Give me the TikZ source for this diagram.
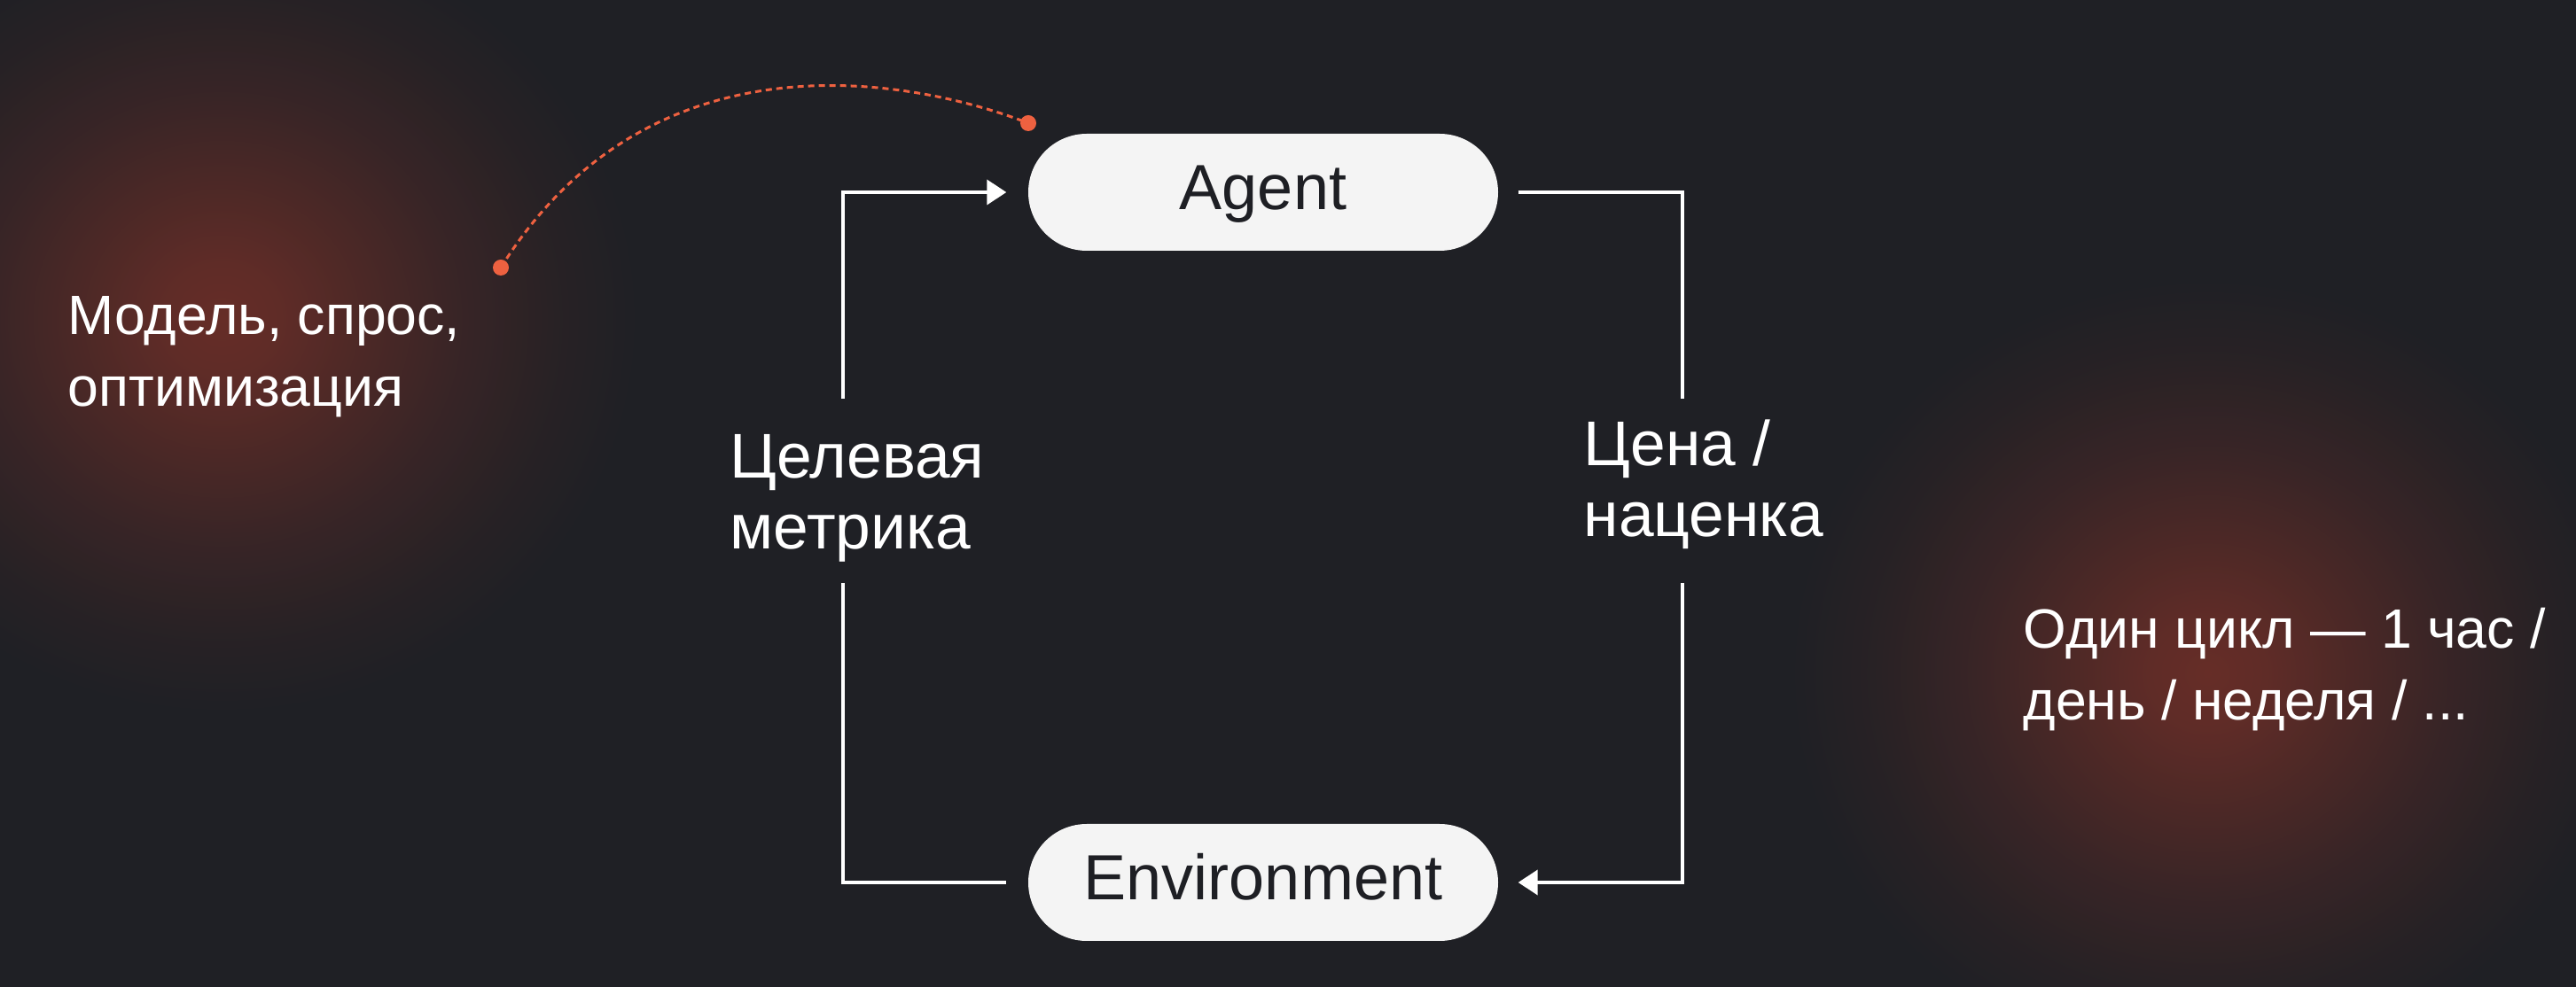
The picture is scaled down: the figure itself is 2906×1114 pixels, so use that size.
\documentclass[tikz,border=0pt]{standalone}
\usepackage{fontspec}
\setmainfont{Liberation Sans}
\usetikzlibrary{arrows.meta}

\definecolor{bg}{HTML}{1F2025}
\definecolor{glowc}{HTML}{662D27}
\definecolor{boxfill}{HTML}{F4F4F4}
\definecolor{boxtext}{HTML}{1E1F24}
\definecolor{accent}{HTML}{EE6140}

\pgfdeclareradialshading{glow}{\pgfpoint{0bp}{0bp}}{color(0bp)=(glowc); color(3bp)=(glowc!90!bg); color(7bp)=(glowc!65!bg); color(12bp)=(glowc!35!bg); color(17bp)=(glowc!12!bg); color(21bp)=(bg); color(50bp)=(bg)}

\tikzset{
  stage/.style={fill=boxfill, text=boxtext, rounded corners=6.6mm, minimum width=53mm, minimum height=13.2mm, inner sep=0pt, text height=14.7pt, text depth=3.6pt, font=\fontsize{20.5}{24}\selectfont},
  lbl/.style={text=white, align=left, inner sep=0pt, anchor=base west, font=\fontsize{20.3}{22.8}\selectfont},
  note/.style={lbl, font=\fontsize{17.8}{23.2}\selectfont},
  flow/.style={draw=white, line width=0.38mm},
  flowarrow/.style={flow, -{Triangle[length=2.2mm,width=2.8mm]}},
  dot/.style={circle, fill=accent, inner sep=0pt, minimum size=1.8mm},
}

\begin{document}
\begin{tikzpicture}[x=0.1mm,y=-0.1mm]
\fill[bg] (0,0) rectangle (2906,1114);
\useasboundingbox (0,0) rectangle (2906,1114);

% glows behind the side notes
\begin{scope}
\clip (0,0) rectangle (2906,1114);
\shade[shading=glow] (250,360) ellipse [x radius=560, y radius=530];
\shade[shading=glow] (2490,760) ellipse [x radius=560, y radius=530];
\end{scope}

% the two stages
\node[stage] (agent) at (1425,217) {Agent};
\node[stage] (env) at (1425,996) {Environment};

% labels on the loop (anchored at the second baseline)
\node[lbl] (metric) at (823,620) {Целевая\\метрика};
\node[lbl] (price) at (1786,606) {Цена /\\наценка};

% side notes
\node[note] (model) at (76,459) {Модель, спрос,\\оптимизация};
\node[note] (cycle) at (2282,813) {Один цикл — 1 час /\\день / неделя / ...};

% loop
\coordinate (lt) at (951,450);
\coordinate (lb) at (951,658);
\coordinate (rt) at (1898,450);
\coordinate (rb) at (1898,658);
\draw[flowarrow, shorten >=2.4mm] (lt) |- (agent.west);
\draw[flow, shorten <=2.2mm] (agent.east) -| (rt);
\draw[flowarrow, shorten >=2.2mm] (rb) |- (env.east);
\draw[flow] (lb) |- ([xshift=-2.4mm]env.west);

% dashed link from the note to the agent
\node[dot] (p1) at (565,302) {};
\node[dot] (p2) at (1160,139) {};
\draw[accent, line width=0.3mm, dash pattern=on 0.7mm off 0.5mm] (p1.center) .. controls (740,22) and (1048,95) .. (p2.center);
\end{tikzpicture}
\end{document}
